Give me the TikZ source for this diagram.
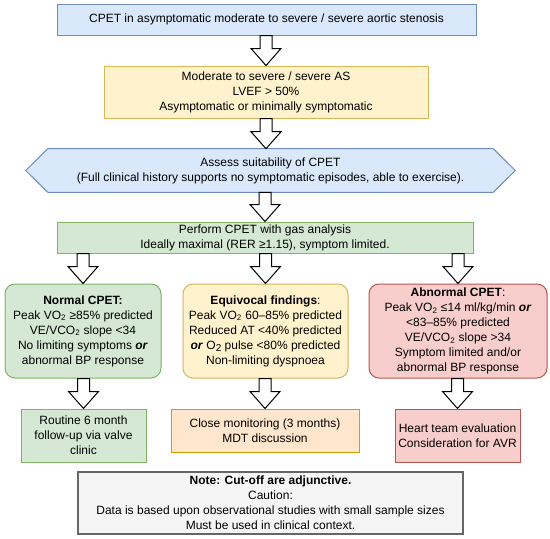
\documentclass[tikz,border=0pt]{standalone}
\usepackage{fontspec}
\setmainfont{Liberation Sans}
\usetikzlibrary{calc,backgrounds}
\definecolor{bluef}{HTML}{DAE8FC}\definecolor{blued}{HTML}{6C8EBF}
\definecolor{yelf}{HTML}{FFF2CC}\definecolor{yeld}{HTML}{D6B656}
\definecolor{grnf}{HTML}{D5E8D4}\definecolor{grnd}{HTML}{82B366}
\definecolor{redf}{HTML}{F8CECC}\definecolor{redd}{HTML}{B85450}
\definecolor{orgf}{HTML}{FFE6CC}\definecolor{orgd}{HTML}{D79B00}
\definecolor{gryf}{HTML}{F5F5F5}\definecolor{gryd}{HTML}{666666}
\newcommand\vsub{\textsubscript{2}}
\newcommand\bior{\textbf{\textit{or}}}
\newcommand\blockarrow[2]{\draw[barrow] let \p1=(#1), \p2=(#2) in
  (\x2-4.5pt,\y1) -- (\x2+4.5pt,\y1) -- (\x2+4.5pt,\y2+12.75pt) -- (\x2+11.25pt,\y2+12.75pt)
  -- (\x2,\y2) -- (\x2-11.25pt,\y2+12.75pt) -- (\x2-4.5pt,\y2+12.75pt) -- cycle;}
\tikzset{
  every node/.style={font=\fontsize{9}{11.25}\selectfont, align=center, inner sep=0pt},
  bx/.style={draw, line width=0.75pt},
  rbx/.style={bx, rounded corners=7.5pt},
  barrow/.style={draw=black, fill=white, line width=0.75pt, line join=miter},
}
\begin{document}
\begin{tikzpicture}[x=0.75pt,y=-0.75pt]
\useasboundingbox (0,0) rectangle (550,539);

\node[bx, fill=bluef, draw=blued, minimum width=314.25pt, minimum height=23.25pt] (top) at (266.5,19.5)
  {CPET in asymptomatic moderate to severe / severe aortic stenosis};
\node[bx, fill=yelf, draw=yeld, minimum width=243pt, minimum height=39pt] (crit) at (266,92)
  {Moderate to severe / severe AS\\LVEF > 50\%\\Asymptomatic or minimally symptomatic};
\node[minimum width=333.75pt, minimum height=32.25pt] (hex) at (270.5,170.5)
  {Assess suitability of CPET\\(Full clinical history supports no symptomatic episodes, able to exercise).};
\begin{scope}[on background layer]
\fill[white] (0,0) rectangle (550,539);
\draw[fill=bluef, draw=blued, line width=0.75pt] (hex.north west) -- (hex.north east) -- ($(hex.east)+(22,0)$)
  -- (hex.south east) -- (hex.south west) -- ($(hex.west)+(-22,0)$) -- cycle;
\end{scope}
\node[bx, fill=grnf, draw=grnd, minimum width=312pt, minimum height=23.25pt] (perf) at (265,237.5)
  {Perform CPET with gas analysis\\Ideally maximal (RER ≥1.15), symptom limited.};

\node[rbx, fill=grnf, draw=grnd, minimum width=117pt, minimum height=70.5pt] (norm) at (83,331)
  {\textbf{Normal CPET:}\\Peak VO\vsub{} ≥85\% predicted\\VE/VCO\vsub{} slope <34\\No limiting symptoms \bior\\abnormal BP response};
\node[rbx, fill=yelf, draw=yeld, minimum width=123.75pt, minimum height=70.5pt] (equi) at (265.5,331)
  {\textbf{Equivocal findings}:\\Peak VO\vsub{} 60–85\% predicted\\Reduced AT <40\% predicted\\\bior{} O\raisebox{-0.4ex}{\fontsize{7.5}{8}\selectfont 2} pulse <80\% predicted\\Non-limiting dyspnoea};
\node[rbx, fill=redf, draw=redd, minimum width=133.5pt, minimum height=70.5pt] (abn) at (458,331)
  {\textbf{Abnormal CPET}:\\Peak VO\vsub{} ≤14 ml/kg/min \bior\\<83–85\% predicted\\VE/VCO\vsub{} slope >34\\Symptom limited and/or\\abnormal BP response};

\node[bx, fill=grnf, draw=grnd, minimum width=93.75pt, minimum height=39.75pt] (rout) at (83.5,435.5)
  {Routine 6 month\\follow-up via valve\\clinic};
\node[bx, fill=orgf, draw=orgd, minimum width=141pt, minimum height=32.25pt] (close) at (265,430.5)
  {Close monitoring (3 months)\\MDT discussion};
\node[bx, fill=redf, draw=redd, minimum width=93.75pt, minimum height=39.75pt] (heart) at (457.5,435.5)
  {Heart team evaluation\\Consideration for AVR};

\node[draw=gryd, fill=gryf, line width=1.5pt, minimum width=288.75pt, minimum height=46.5pt] (note) at (270.5,503)
  {\textbf{Note: Cut-off are adjunctive.}\\Caution:\\Data is based upon observational studies with small sample sizes\\Must be used in clinical context.};

\blockarrow{top.south}{crit.north}
\blockarrow{crit.south}{crit.south |- hex.north}
\blockarrow{hex.south}{perf.north}
\blockarrow{perf.south}{norm.north}
\blockarrow{perf.south}{equi.north}
\blockarrow{perf.south}{abn.north}
\blockarrow{norm.south}{rout.north}
\blockarrow{equi.south}{close.north}
\blockarrow{abn.south}{heart.north}
\end{tikzpicture}
\end{document}
